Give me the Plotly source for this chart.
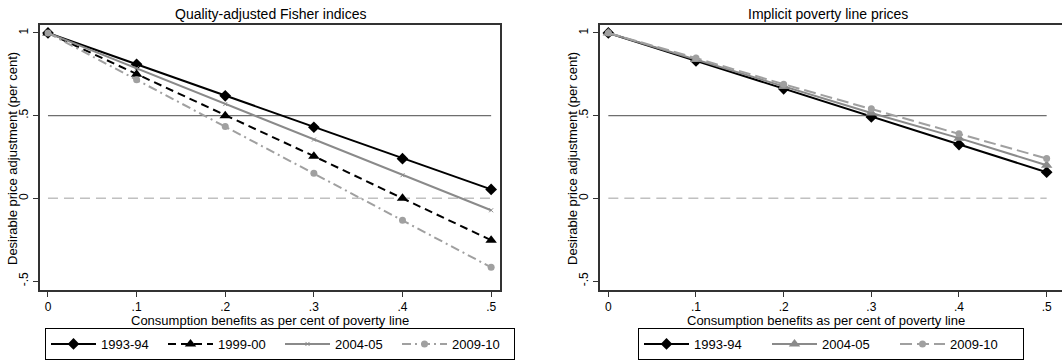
import plotly.graph_objects as go

x_vals = [0, 0.1, 0.2, 0.3, 0.4, 0.5]
x_ticktext = ["0", ".1", ".2", ".3", ".4", ".5"]
y_tickvals = [-0.5, 0, 0.5, 1]
y_ticktext = ["-.5", "0", ".5", "1"]

# Left panel: Quality-adjusted Fisher indices
fisher_1993 = [1.0, 0.81, 0.62, 0.43, 0.24, 0.054]
fisher_1999 = [1.0, 0.75, 0.50, 0.255, 0.0, -0.253]
fisher_2004 = [1.0, 0.786, 0.57, 0.355, 0.14, -0.072]
fisher_2009 = [1.0, 0.717, 0.434, 0.152, -0.133, -0.417]

# Right panel: Implicit poverty line prices
pl_1993 = [1.0, 0.831, 0.662, 0.492, 0.325, 0.158]
pl_2004 = [1.0, 0.840, 0.676, 0.516, 0.364, 0.200]
pl_2009 = [1.0, 0.848, 0.690, 0.542, 0.390, 0.241]

FONT = "Liberation Sans, Arial, sans-serif"
BLACK = "#000000"
GRAY = "#8a8a8a"
LGRAY = "#a0a0a0"

fig = go.Figure()

def add(x, y, name, color, dash, symbol, size, xa, ya, legend):
    fig.add_trace(go.Scatter(
        x=x, y=y, name=name, mode="lines+markers",
        line=dict(color=color, width=2, dash=dash),
        marker=dict(symbol=symbol, size=size, color=color, line=dict(width=0)),
        xaxis=xa, yaxis=ya, legend=legend))

# reference lines (drawn first so series sit on top)
for xa, ya in [("x", "y"), ("x2", "y2")]:
    fig.add_trace(go.Scatter(x=[0, 0.5], y=[0.5, 0.5], mode="lines",
                             line=dict(color="#6e6e6e", width=1.2),
                             xaxis=xa, yaxis=ya, showlegend=False, hoverinfo="skip"))
    fig.add_trace(go.Scatter(x=[0, 0.5], y=[0, 0], mode="lines",
                             line=dict(color="#c0c0c0", width=1.5, dash="10px,6px"),
                             xaxis=xa, yaxis=ya, showlegend=False, hoverinfo="skip"))

add(x_vals, fisher_1993, "1993-94", BLACK, "solid", "diamond", 9, "x", "y", "legend")
add(x_vals, fisher_1999, "1999-00", BLACK, "8px,5px", "triangle-up", 10, "x", "y", "legend")
add(x_vals, fisher_2004, "2004-05", GRAY, "solid", "x-thin-open", 4, "x", "y", "legend")
add(x_vals, fisher_2009, "2009-10", LGRAY, "9px,4px,2px,4px", "circle", 7, "x", "y", "legend")

add(x_vals, pl_1993, "1993-94", BLACK, "solid", "diamond", 9, "x2", "y2", "legend2")
add(x_vals, pl_2004, "2004-05", GRAY, "solid", "triangle-up", 10, "x2", "y2", "legend2")
add(x_vals, pl_2009, "2009-10", LGRAY, "12px,5px", "circle", 7, "x2", "y2", "legend2")

W, H = 1062, 362
yd = [(H - 290) / H, (H - 25) / H]

axis_common = dict(showgrid=False, zeroline=False, showline=True, linecolor="#333333",
                   linewidth=1.5, mirror=True, ticks="outside", ticklen=5,
                   tickcolor="#333333", tickfont=dict(family=FONT, size=12, color="black"),
                   automargin=False)

fig.update_layout(
    width=W, height=H, margin=dict(l=0, r=0, t=0, b=0, autoexpand=False),
    paper_bgcolor="white", plot_bgcolor="white",
    font=dict(family=FONT, size=13, color="black"),
    xaxis=dict(domain=[40 / W, 500 / W], range=[-0.009, 0.510], tickvals=x_vals,
               ticktext=x_ticktext, anchor="y", **axis_common),
    yaxis=dict(domain=yd, range=[-0.554, 1.048], tickvals=y_tickvals, ticktext=y_ticktext,
               tickangle=-90, anchor="x", **axis_common),
    xaxis2=dict(domain=[600 / W, 1.0], range=[-0.0095, 0.5175], tickvals=x_vals,
                ticktext=x_ticktext, anchor="y2", **axis_common),
    yaxis2=dict(domain=yd, range=[-0.554, 1.048], tickvals=y_tickvals, ticktext=y_ticktext,
                tickangle=-90, anchor="x2", **axis_common),
    legend=dict(orientation="h", x=45 / W, y=(H - 328) / H, xanchor="left", yanchor="top",
                bordercolor="black", borderwidth=1, bgcolor="white",
                font=dict(family=FONT, size=13), entrywidth=57, itemwidth=45,
                tracegroupgap=0),
    legend2=dict(orientation="h", x=638 / W, y=(H - 328) / H, xanchor="left", yanchor="top",
                 bordercolor="black", borderwidth=1, bgcolor="white",
                 font=dict(family=FONT, size=13), entrywidth=68, itemwidth=45,
                 tracegroupgap=0),
    showlegend=True,
)

def note(text, x, y, size, angle=0):
    return dict(text=text, x=x / W, y=(H - y) / H, xref="paper", yref="paper",
                xanchor="center", yanchor="middle", showarrow=False,
                textangle=angle, font=dict(family=FONT, size=size, color="black"))

ann = [note("Quality-adjusted Fisher indices", 270, 14, 14),
       note("Implicit poverty line prices", 828, 14, 14)]
for cx in [270, 826]:
    ann.append(note("Consumption benefits as per cent of poverty line", cx, 320, 13))
for cx in [12, 572]:
    ann.append(note("Desirable price adjustment (per cent)", cx, 159, 13, -90))
fig.update_layout(annotations=ann)

fig.write_html("out.html")
